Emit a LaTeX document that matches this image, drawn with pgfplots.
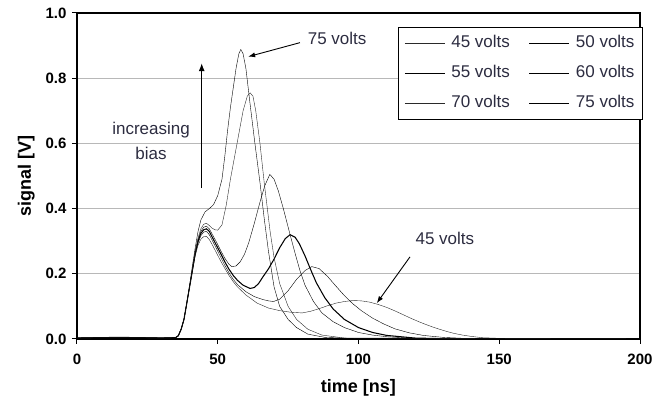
\documentclass[border=0pt]{standalone}
\usepackage{pgfplots}
\pgfplotsset{compat=1.18}
\usetikzlibrary{arrows.meta}
\usepackage{fontspec}
\setmainfont{Liberation Sans}
\definecolor{curve}{HTML}{2A2A2A}
\definecolor{txt}{HTML}{2C2C40}
\begin{document}
\begin{tikzpicture}[x=1pt,y=1pt]
\useasboundingbox (-77,-67) rectangle (582,339);
\begin{axis}[
  at={(0,0)}, anchor=south west,
  scale only axis, width=563pt, height=326pt,
  xmin=0, xmax=200, ymin=0, ymax=1,
  xtick={0,50,100,150,200},
  ytick={0,0.2,0.4,0.6,0.8,1},
  ymajorgrids, grid style={color=black!28, line width=1pt},
  tick pos=left, tick align=outside, major tick length=5pt,
  tick style={black, line width=1pt},
  axis line style={black, line width=1.1pt},
  /pgf/number format/assume math mode=true,
  ticklabel style={font=\fontsize{15}{18}\selectfont\bfseries},
  yticklabel style={xshift=-2pt, /pgf/number format/.cd, fixed, fixed zerofill, precision=1},
  xticklabel style={yshift=-6pt},
  xlabel={time [ns]}, ylabel={signal [V]},
  every axis x label/.style={at={(axis description cs:0.5,-0.150)}, anchor=center, font=\fontsize{18}{21}\selectfont\bfseries},
  every axis y label/.style={at={(axis description cs:-0.090,0.5)}, rotate=90, anchor=center, font=\fontsize{18}{21}\selectfont\bfseries},
  cycle list={{curve, solid, line width=1.05pt, mark=none}},
  legend columns=2,
  legend image code/.code={\draw[#1] (0pt,0pt) -- (40pt,0pt); \path (44pt,0pt);},
  legend style={at={(rel axis cs:1.0053,0.958)}, anchor=north east,
    draw=black, line width=1pt, fill=white,
    font=\fontsize{17}{20}\selectfont, text=txt,
    inner xsep=6pt, inner ysep=6pt, row sep=10pt,
    nodes={inner xsep=2pt, inner ysep=2pt, text height=12.5pt, text depth=3.5pt},
    /tikz/every even column/.append style={column sep=17pt}},
]
% 45 volts
\addplot coordinates {(0,0.003) (15,0.005) (30,0.003) (35,0.004) (36,0.01) (37,0.03) (38,0.06) (39,0.11) (40,0.16) (41,0.21) (42,0.255) (43,0.288) (44,0.306) (45,0.314) (46,0.315) (47,0.305) (48,0.29) (49.5,0.265) (51,0.24) (52.5,0.217) (54,0.195) (55.5,0.176) (57,0.16) (60,0.135) (64,0.11) (68,0.095) (72,0.087) (76,0.082) (80,0.08) (83,0.085) (86,0.093) (89,0.102) (92,0.11) (95,0.115) (98,0.118) (101,0.117) (104,0.113) (107,0.106) (110,0.097) (113,0.086) (116,0.074) (119,0.062) (122,0.051) (125,0.041) (128,0.032) (131,0.024) (134,0.017) (137,0.012) (140,0.008) (144,0.004) (150,0.002) (160,0.001) (200,0)};
\addlegendentry{45 volts}
% 50 volts
\addplot coordinates {(0,0.003) (15,0.005) (30,0.003) (35,0.004) (36,0.01) (37,0.03) (38,0.06) (39,0.11) (40,0.16) (41,0.21) (42,0.26) (43,0.295) (44,0.317) (45,0.328) (46,0.33) (47,0.32) (48,0.303) (49.5,0.278) (51,0.252) (52.5,0.226) (54,0.203) (55.5,0.183) (57,0.167) (60,0.145) (63,0.13) (66,0.121) (68,0.117) (69.8,0.115) (72,0.122) (75,0.148) (78,0.183) (81,0.21) (83.4,0.222) (86,0.216) (89,0.192) (92,0.162) (95,0.133) (98,0.108) (101,0.087) (105,0.064) (109,0.046) (113,0.031) (118,0.019) (123,0.011) (130,0.005) (140,0.001) (200,0)};
\addlegendentry{50 volts}
% 55 volts
\addplot coordinates {(0,0.003) (15,0.005) (30,0.003) (35,0.004) (36,0.01) (37,0.03) (38,0.06) (39,0.11) (40,0.16) (41,0.21) (42,0.263) (43,0.3) (44,0.324) (45,0.335) (46,0.338) (47,0.33) (48,0.313) (49.5,0.288) (51,0.263) (52.5,0.237) (54,0.214) (55.5,0.195) (57,0.18) (59,0.165) (61.5,0.155) (63,0.158) (64.5,0.17) (66,0.19) (68,0.215) (70,0.245) (72,0.28) (74,0.308) (75.7,0.32) (77.5,0.312) (79,0.292) (81,0.255) (83,0.213) (85,0.173) (88,0.127) (91,0.092) (95,0.06) (100,0.035) (105,0.02) (110,0.011) (120,0.003) (130,0.001) (200,0)};
\addlegendentry{55 volts}
% 60 volts
\addplot coordinates {(0,0.003) (15,0.005) (30,0.003) (35,0.004) (36,0.01) (37,0.03) (38,0.06) (39,0.11) (40,0.16) (41,0.212) (42,0.265) (43,0.305) (44,0.33) (45,0.343) (46,0.346) (47,0.338) (48,0.322) (49.5,0.298) (51,0.272) (52.5,0.248) (54,0.229) (55,0.222) (56.5,0.224) (58,0.237) (59.5,0.26) (61,0.295) (63,0.355) (65,0.42) (66.7,0.47) (68.5,0.505) (70,0.49) (71.5,0.455) (73.3,0.4) (75.7,0.32) (77.5,0.262) (79.2,0.21) (81,0.165) (84,0.115) (87,0.08) (91,0.053) (95,0.035) (100,0.02) (105,0.012) (110,0.007) (120,0.002) (200,0)};
\addlegendentry{60 volts}
% 70 volts
\addplot coordinates {(0,0.003) (15,0.005) (30,0.003) (35,0.004) (36,0.01) (37,0.03) (38,0.06) (39,0.11) (40,0.162) (41,0.215) (42,0.27) (43,0.31) (44,0.338) (45,0.352) (46,0.355) (47,0.348) (48,0.34) (49,0.335) (50,0.334) (51.5,0.35) (53,0.41) (54.5,0.49) (56,0.56) (57.5,0.63) (59,0.7) (60.5,0.745) (61.5,0.755) (62.5,0.745) (63.5,0.7) (65,0.6) (66.5,0.48) (68.6,0.33) (70,0.25) (72,0.17) (75,0.1) (78,0.06) (82,0.03) (87,0.012) (95,0.003) (200,0)};
\addlegendentry{70 volts}
% 75 volts
\addplot coordinates {(0,0.003) (15,0.005) (30,0.003) (35,0.004) (36,0.01) (37,0.03) (38,0.06) (39,0.11) (40,0.165) (41,0.225) (42,0.28) (43,0.33) (44,0.365) (45.5,0.39) (47,0.4) (48.5,0.412) (50,0.44) (51.5,0.49) (52.5,0.56) (53.5,0.64) (54.5,0.71) (55.5,0.77) (56.5,0.83) (57.5,0.875) (58.2,0.888) (59,0.875) (60,0.83) (61.5,0.72) (63.2,0.6) (65,0.48) (66.5,0.37) (68,0.27) (70,0.16) (72,0.1) (75,0.06) (78,0.035) (82,0.015) (88,0.005) (100,0.001) (200,0)};
\addlegendentry{75 volts}
% annotations
\node[font=\fontsize{17}{20}\selectfont, text=txt] at (axis cs:92.4,0.923) {75 volts};
\draw[-{Latex[length=7pt,width=5pt]}, line width=0.9pt] (axis cs:79.2,0.909) -- (axis cs:60.8,0.866);
\node[font=\fontsize{17}{25}\selectfont, text=txt, align=center] at (axis cs:26.3,0.609) {increasing\\bias};
\draw[-{Latex[length=8pt,width=6pt]}, line width=1pt] (axis cs:44.3,0.463) -- (axis cs:44.3,0.846);
\node[font=\fontsize{17}{20}\selectfont, text=txt] at (axis cs:130.7,0.31) {45 volts};
\draw[-{Latex[length=7pt,width=5pt]}, line width=0.9pt] (axis cs:118.3,0.252) -- (axis cs:106.5,0.11);
\node[font=\fontsize{20}{24}\selectfont\bfseries, inner sep=0pt] at (axis description cs:-0.0675,-0.047) {(b)};
\end{axis}
\end{tikzpicture}
\end{document}
